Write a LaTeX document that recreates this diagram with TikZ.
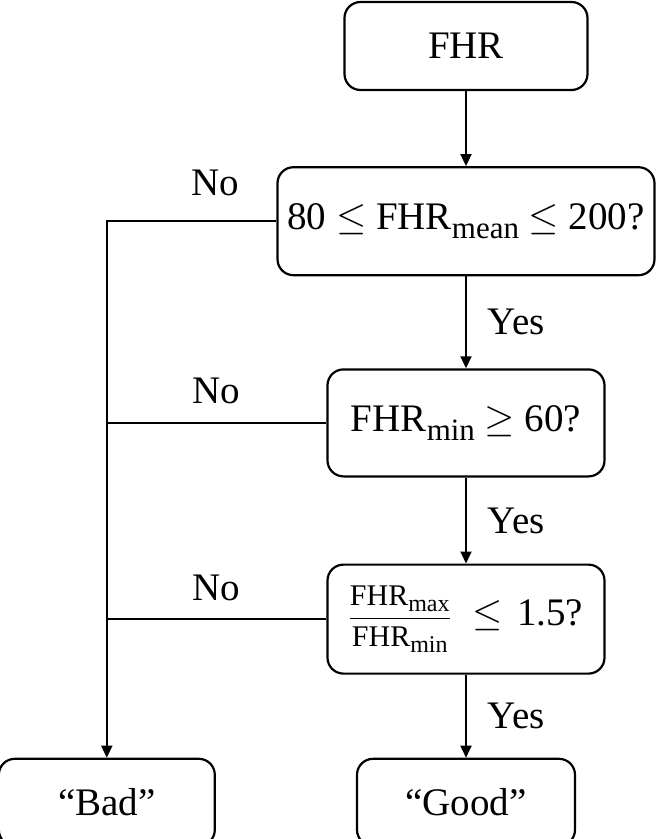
\RequirePackage{fix-cm}
\documentclass[tikz,border=0pt]{standalone}
\usepackage{amsmath}
\usepackage{fontspec}
\setmainfont{Liberation Serif}
\usetikzlibrary{arrows.meta,positioning}
\newcommand{\lowtext}[3]{\raisebox{-#2}{\fontsize{#1}{#1}\selectfont #3}}

\begin{document}
\begin{tikzpicture}[
  x=1pt,y=1pt,
  node distance=80pt and 140pt,
  stepbox/.style={rectangle,draw,line width=2.2pt,rounded corners=16pt,align=center,inner sep=0pt,font=\fontsize{39}{44}\selectfont},
  lbl/.style={inner sep=0pt,font=\fontsize{39}{44}\selectfont},
  link/.style={line width=1.8pt},
  flow/.style={-{Triangle[length=12pt,width=11pt]},line width=1.8pt}]
\useasboundingbox (0,0) rectangle (657,-839);
\node[stepbox,minimum width=243pt,minimum height=88pt] (fhr) at (466,-46) {FHR};
\node[stepbox,minimum width=377pt,minimum height=108pt,below=75pt of fhr] (mean) {80 $\leq$ FHR\lowtext{31pt}{9pt}{mean} $\leq$ 200?};
\node[stepbox,minimum width=277pt,minimum height=107pt,below=92pt of mean] (minb) {FHR\lowtext{31pt}{9pt}{min} $\geq$ 60?};
\node[stepbox,minimum width=277pt,minimum height=109pt,below=86pt of minb] (ratio) {{\fontsize{30}{34}\selectfont$\dfrac{\text{FHR\lowtext{24pt}{6pt}{max}}}{\text{FHR\lowtext{24pt}{6pt}{min}}}$}\hspace{22pt}$\leq$\hspace{14pt}1.5?};
\node[stepbox,minimum width=218pt,minimum height=87pt,below=83pt of ratio] (good) {``Good''};
\node[stepbox,minimum width=216pt,minimum height=87pt,left=of good] (bad) {``Bad''};
% yes branch
\draw[flow] (fhr) -- (mean);
\draw[flow] (mean) -- node[lbl,right=21pt]{Yes} (minb);
\draw[flow] (minb) -- node[lbl,right=21pt]{Yes} (ratio);
\draw[flow] (ratio) -- node[lbl,right=21pt]{Yes} (good);
% no branch
\draw[flow] (mean.west) -- node[lbl,above=24pt,pos=0.36]{No} (mean.west -| bad.north) -- (bad.north);
\draw[link] (minb.west) -- node[lbl,above=18pt]{No} (minb.west -| bad.north);
\draw[link] (ratio.west) -- node[lbl,above=17pt]{No} (ratio.west -| bad.north);
\end{tikzpicture}
\end{document}
